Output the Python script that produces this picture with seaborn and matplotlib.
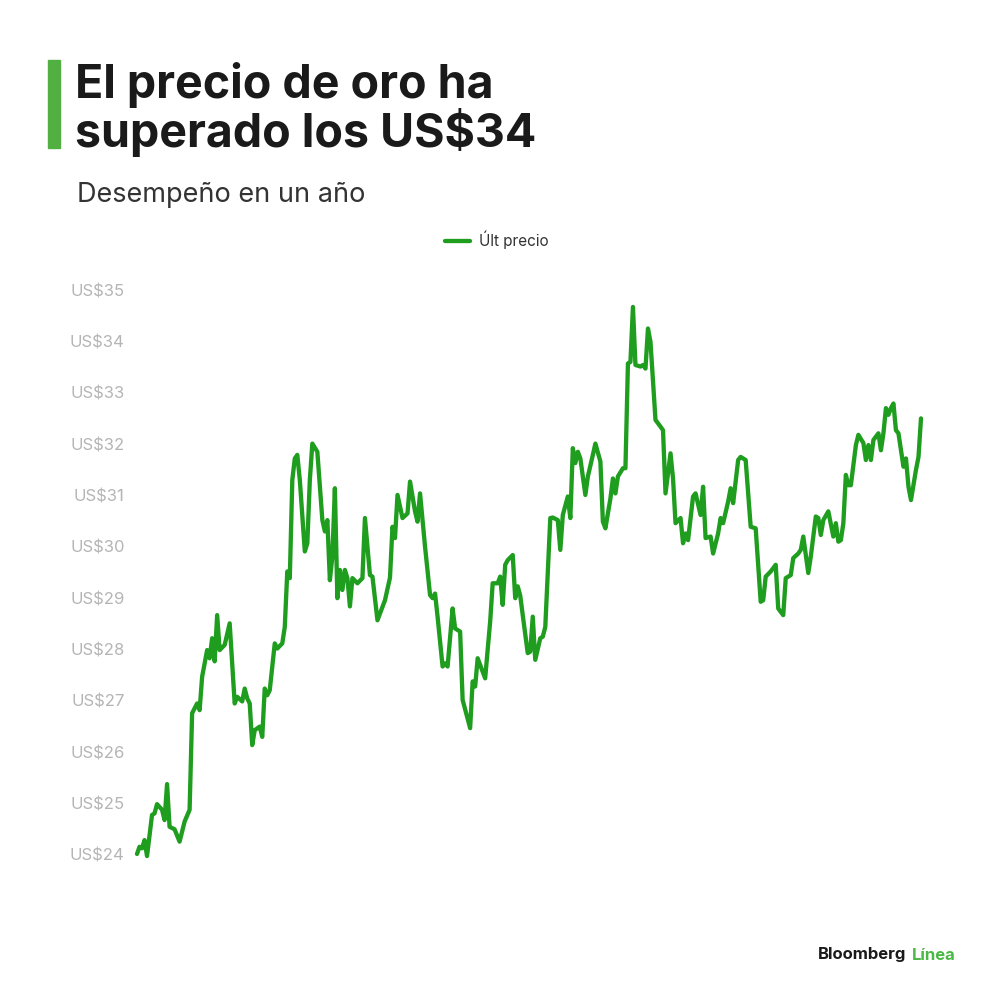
import matplotlib.pyplot as plt
import pandas as pd
import seaborn as sns

# precio del oro - ultimo precio, un año
dia = [0, 1, 2, 3, 4, 6, 7, 8, 10, 11, 12, 13, 15, 17, 19, 21, 22, 24, 25, 26,
       28, 29, 30, 31, 32, 33, 35, 37, 39, 40, 42, 43, 44, 45, 46, 47, 49,
       50, 51, 52, 53, 55, 56, 58, 59, 60, 61, 62, 63, 64, 65, 67, 68, 69, 70,
       72, 74, 75, 76, 77, 78, 79, 80, 81, 82, 83, 84, 85, 86, 88, 90, 91, 93,
       94, 96, 99, 101,
       102, 103, 104, 106, 108, 109, 111, 112, 113, 115, 117, 118, 119, 120,
       122, 123, 124, 126, 127, 129, 130, 133, 134, 135, 136, 139, 141, 142,
       144, 145, 146, 147, 148, 150, 151, 152, 153,
       154, 156, 157, 158, 159, 161, 162, 163, 165, 166, 168, 169, 170, 172,
       173, 174, 175, 176, 177, 179, 180, 182, 183, 185, 186, 187, 189, 190,
       191, 192, 194, 195, 196, 197, 198, 199, 201, 202, 203, 204, 205,
       207, 209, 210, 211, 213, 214, 215, 217, 218, 219, 220, 222, 223, 225,
       226, 227, 229, 230, 232, 233, 234, 236, 237, 238, 240, 241, 243, 245,
       247, 249, 250, 251, 253, 255, 256, 258, 259, 261,
       262, 264, 265, 266, 268, 269, 271, 272, 273, 274, 276, 278, 279, 280,
       281, 282, 283, 284, 285, 287, 288, 290, 291, 292, 293, 294, 296, 297,
       298, 299, 300, 301, 302, 303, 304, 306, 307, 308, 309, 311, 312, 313]

precio = [24.02, 24.16, 24.13, 24.29, 23.98, 24.78, 24.81, 24.99, 24.88, 24.68,
          25.38, 24.55, 24.50, 24.26, 24.65, 24.88, 26.76, 26.95, 26.82, 27.47,
          27.99, 27.83, 28.22, 27.77, 28.67, 27.99, 28.09, 28.51, 26.95, 27.08,
          26.99, 27.24, 27.05, 26.95, 26.14, 26.43, 26.50,
          26.30, 27.24, 27.11, 27.21, 28.12, 28.02, 28.12, 28.44, 29.52, 29.39,
          31.30, 31.72, 31.79, 31.30, 29.91, 30.07, 31.30, 32.01, 31.85, 30.52,
          30.30, 30.52, 29.35, 29.81, 31.14, 29.00, 29.55, 29.16, 29.55, 29.39,
          28.84, 29.39, 29.29, 29.39, 30.56, 29.45, 29.42, 28.57, 28.96, 29.40,
          30.39, 30.17, 31.01, 30.56, 30.65, 31.27, 30.69, 30.49, 31.04, 30.00,
          29.06, 29.00, 29.09, 28.64, 27.67, 27.73, 27.67, 28.80, 28.41, 28.35,
          27.02, 26.47, 27.38, 27.28, 27.83, 27.44, 28.55, 29.29, 29.29, 29.42,
          28.87, 29.65, 29.74, 29.84, 29.00, 29.23, 29.05,
          28.67, 27.93, 27.96, 28.64, 27.80, 28.22, 28.25, 28.44, 30.56, 30.57,
          30.52, 29.94, 30.62, 30.98, 30.56, 31.92, 31.63, 31.85, 31.72, 31.01,
          31.37, 31.79, 32.01, 31.66, 30.49, 30.36, 30.94, 31.33, 31.04, 31.37,
          31.53, 31.53, 33.57, 33.60, 34.67, 33.54, 33.51, 33.54, 33.47, 34.25,
          33.99,
          32.47, 32.34, 32.27, 31.04, 31.82, 31.33, 30.46, 30.56, 30.07, 30.26,
          30.13, 30.98, 31.04, 30.62, 31.17, 30.17, 30.20, 29.87, 30.26, 30.56,
          30.46, 30.88, 31.14, 30.85, 31.69, 31.75, 31.69, 30.39, 30.36, 28.93,
          28.96, 29.42, 29.52, 29.65, 28.80, 28.67, 29.39, 29.45,
          29.78, 29.87, 29.94, 30.20, 29.49, 29.81, 30.59, 30.56, 30.23, 30.52,
          30.69, 30.20, 30.46, 30.10, 30.13, 30.46, 31.40, 31.20, 31.20, 31.98,
          32.18, 32.02, 31.69, 31.98, 31.69, 32.08, 32.21, 31.88, 32.21, 32.70,
          32.57, 32.70, 32.79, 32.27, 32.21, 31.56, 31.72, 31.17, 30.91, 31.50,
          31.75, 32.50]

ticks = list(range(24, 36))
tick_labels = ["US\\$%d" % t for t in ticks]

sns.set_theme(style="white")
plt.rcParams["font.family"] = ["Inter", "DejaVu Sans"]

df = pd.DataFrame({"dia": dia, "precio": precio})

fig = plt.figure(figsize=(10, 10), dpi=100)
ax = fig.add_axes([0.137, 0.145, 0.784, 0.565])
sns.lineplot(data=df, x="dia", y="precio", color="#1f9d1f", linewidth=3.1,
             ax=ax, label="Últ precio", clip_on=False)

ax.set_xlim(0, 313)
ax.set_ylim(24, 35)
ax.set_yticks(ticks, tick_labels)
ax.set_xticks([])
ax.set_xlabel("")
ax.set_ylabel("")
ax.tick_params(axis="y", length=0, pad=9, labelsize=12, labelcolor="#b5b5b5")
sns.despine(ax=ax, left=True, bottom=True)

ax.legend(loc="center", bbox_to_anchor=(0.497, 0.76), bbox_transform=fig.transFigure,
          frameon=False, fontsize=11, handlelength=1.6, handletextpad=0.6,
          labelcolor="#333333")

# titulo
fig.add_artist(plt.Rectangle((0.048, 0.852), 0.012, 0.088, color="#52b043",
                             transform=fig.transFigure))
fig.text(0.075, 0.938, "El precio de oro ha\nsuperado los US\\$34", fontsize=33.5,
         fontweight="bold", color="#1a1a1a", va="top", ha="left", linespacing=1.0)
fig.text(0.077, 0.792, "Desempeño en un año", fontsize=19.5, color="#333333",
         va="bottom", ha="left")

fig.text(0.818, 0.045, "Bloomberg", fontsize=12, fontweight="bold",
         color="#1a1a1a", va="center", ha="left")
fig.text(0.912, 0.045, "Línea", fontsize=12, fontweight="bold",
         color="#4cb847", va="center", ha="left")

fig.savefig("out.png", dpi=100, facecolor="white")
